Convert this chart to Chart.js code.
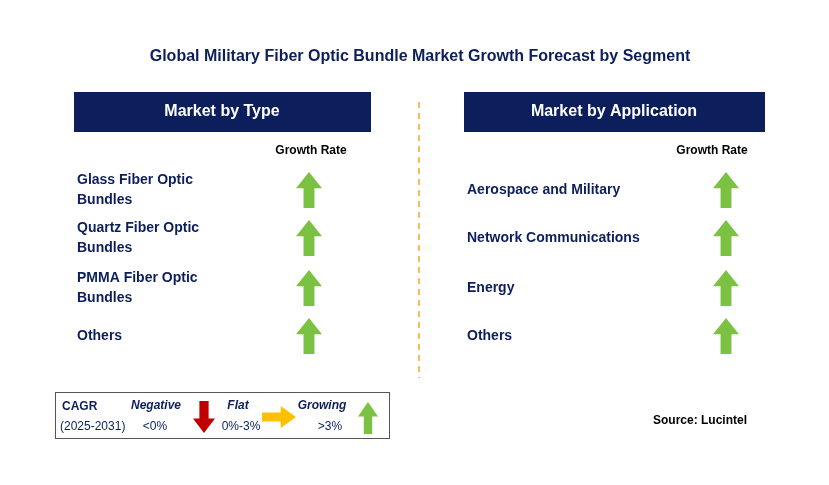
<!DOCTYPE html>
<html><head><meta charset="utf-8">
<script src="https://cdn.jsdelivr.net/npm/chart.js@4"></script>
<style>html,body{margin:0;padding:0;background:#fff}#c{display:block}</style>
</head><body>
<div style="width:829px;height:485px"><canvas id="c"></canvas></div>
<script>
const title = "Global Military Fiber Optic Bundle Market Growth Forecast by Segment";
const typeCategories = [["Glass Fiber Optic","Bundles"],["Quartz Fiber Optic","Bundles"],["PMMA Fiber Optic","Bundles"],["Others"]];
const typeGrowth = ["up","up","up","up"];
const appCategories = [["Aerospace and Military"],["Network Communications"],["Energy"],["Others"]];
const appGrowth = ["up","up","up","up"];
const rowY = [190, 238, 288, 336];

const NAVY = "#0c1f5c", GREEN = "#7cc242", RED = "#c00000", ORANGE = "#ffc000";
function arrow(dir, color, w, h) {
  const c = document.createElement("canvas"); c.width = w; c.height = h;
  const x = c.getContext("2d"); x.fillStyle = color; x.beginPath();
  const sw = w*0.42, hh = h*0.45;
  if (dir === "up") {
    x.moveTo(w/2,0); x.lineTo(w,hh); x.lineTo(w/2+sw/2,hh); x.lineTo(w/2+sw/2,h);
    x.lineTo(w/2-sw/2,h); x.lineTo(w/2-sw/2,hh); x.lineTo(0,hh);
  } else if (dir === "down") {
    x.moveTo(w/2,h); x.lineTo(w,h-hh); x.lineTo(w/2+sw/2,h-hh); x.lineTo(w/2+sw/2,0);
    x.lineTo(w/2-sw/2,0); x.lineTo(w/2-sw/2,h-hh); x.lineTo(0,h-hh);
  } else {
    const sh = h*0.42, hw = w*0.45;
    x.moveTo(w,h/2); x.lineTo(w-hw,0); x.lineTo(w-hw,h/2-sh/2); x.lineTo(0,h/2-sh/2);
    x.lineTo(0,h/2+sh/2); x.lineTo(w-hw,h/2+sh/2); x.lineTo(w-hw,h);
  }
  x.closePath(); x.fill(); return c;
}
const up = arrow("up", GREEN, 26, 36);
const pts = [];
typeGrowth.forEach((g,i)=>pts.push({x:309,y:rowY[i]}));
appGrowth.forEach((g,i)=>pts.push({x:726,y:rowY[i]}));
const legendPts = [{x:204,y:417,s:arrow("down",RED,22,32)},{x:279,y:417,s:arrow("right",ORANGE,34,22)},{x:368,y:418,s:arrow("up",GREEN,20,32)}];

const deco = {
  id:"deco",
  beforeDatasetsDraw(ch){
    const c = ch.ctx; c.save();
    c.fillStyle = NAVY; c.textAlign="center"; c.textBaseline="middle";
    c.font = "bold 16px Arial, 'Liberation Sans'"; c.fillText(title, 420, 57);
    c.fillRect(74,92,297,40); c.fillRect(464,92,301,40);
    c.fillStyle="#fff"; c.font="bold 16px Arial, 'Liberation Sans'";
    c.fillText("Market by Type",222,112); c.fillText("Market by Application",614,112);
    c.fillStyle="#000"; c.font="bold 12px Arial, 'Liberation Sans'";
    c.fillText("Growth Rate",311,151); c.fillText("Growth Rate",712,151);
    c.textAlign="left"; c.fillStyle=NAVY; c.font="bold 14px Arial, 'Liberation Sans'";
    typeCategories.forEach((l,i)=>{ const y0 = rowY[i] - (l.length-1)*10;
      l.forEach((s,j)=>c.fillText(s,77,y0+j*20)); });
    appCategories.forEach((l,i)=>c.fillText(l[0],467,rowY[i]));
    c.strokeStyle="#f0a830"; c.lineWidth=1.5; c.setLineDash([6,5]);
    c.beginPath(); c.moveTo(419,102); c.lineTo(419,378); c.stroke(); c.setLineDash([]);
    c.strokeStyle="#555"; c.lineWidth=1; c.strokeRect(55.5,392.5,334,46);
    c.fillStyle=NAVY; c.font="bold 12px Arial, 'Liberation Sans'"; c.fillText("CAGR",62,407);
    c.font="12px Arial, 'Liberation Sans'"; c.fillText("(2025-2031)",60,427);
    c.font="bold italic 12px Arial, 'Liberation Sans'"; c.textAlign="center";
    c.fillText("Negative",156,406); c.fillText("Flat",238,406); c.fillText("Growing",322,406);
    c.font="12px Arial, 'Liberation Sans'";
    c.fillText("<0%",155,427); c.fillText("0%-3%",241,427); c.fillText(">3%",330,427);
    c.fillStyle="#000"; c.font="bold 12px Arial, 'Liberation Sans'";
    c.fillText("Source: Lucintel",700,421);
    legendPts.forEach(p=>{ const px=ch.scales.x.getPixelForValue(p.x), py=ch.scales.y.getPixelForValue(p.y);
      c.drawImage(p.s, px-p.s.width/2, py-p.s.height/2); });
    c.restore();
  }
};
new Chart(document.getElementById("c"),{
  type:"scatter",
  data:{datasets:[{data:pts,pointStyle:up,radius:18,hoverRadius:18,clip:false}]},
  options:{responsive:true,maintainAspectRatio:false,animation:false,
    layout:{padding:0,autoPadding:false},
    plugins:{legend:{display:false},tooltip:{enabled:false}},
    scales:{x:{display:false,min:0,max:829},y:{display:false,min:0,max:485,reverse:true}}},
  plugins:[deco]
});
</script></body></html>
